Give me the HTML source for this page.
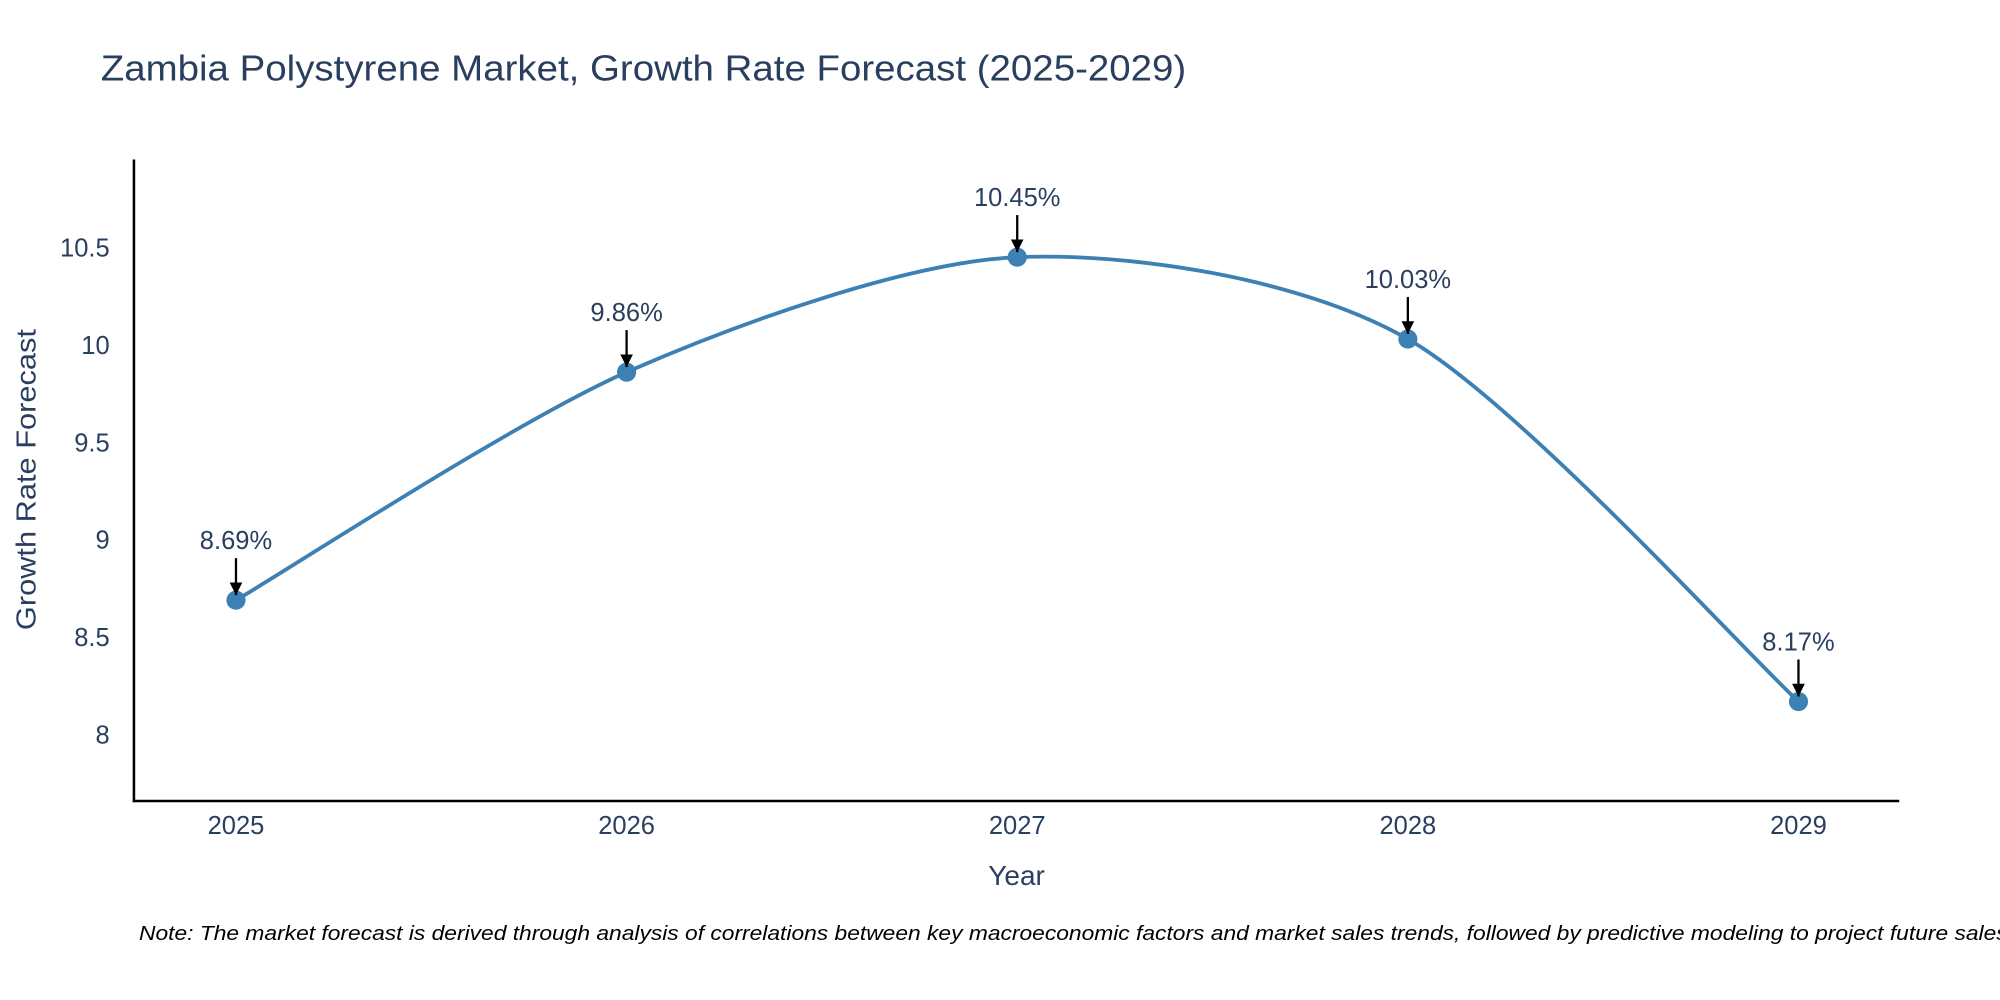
<!DOCTYPE html>
<html><head><meta charset="utf-8"><style>
html,body{margin:0;padding:0;background:#fff;}
svg{display:block;font-family:"Liberation Sans",sans-serif;}
</style></head><body>
<svg id="chart" width="2000" height="1000" viewBox="0 0 1568 784" xmlns="http://www.w3.org/2000/svg">
<defs><marker id="ah" viewBox="0 0 10 10" refX="10" refY="5" markerWidth="10" markerHeight="10" orient="auto" markerUnits="userSpaceOnUse"><path d="M0,0 L10,5 L0,10 z" fill="#000"/></marker></defs>
<rect width="1568" height="784" fill="#fff"/>
<text x="79" y="63" font-size="28" fill="#2a3f5f" textLength="851" lengthAdjust="spacingAndGlyphs">Zambia Polystyrene Market, Growth Rate Forecast (2025-2029)</text>
<g id="yticks"></g><g id="xticks"></g>
<line x1="105" y1="125" x2="105" y2="629" stroke="#000" stroke-width="2"/>
<line x1="104" y1="628" x2="1489" y2="628" stroke="#000" stroke-width="2"/>
<g id="series"></g>
<text transform="translate(28,376) rotate(-90)" text-anchor="middle" font-size="22" fill="#2a3f5f" textLength="236" lengthAdjust="spacingAndGlyphs">Growth Rate Forecast</text>
<text x="797" y="694" text-anchor="middle" font-size="22" fill="#2a3f5f">Year</text>
<text x="109" y="737" font-size="16" font-style="italic" fill="#000" textLength="1470" lengthAdjust="spacingAndGlyphs">Note: The market forecast is derived through analysis of correlations between key macroeconomic factors and market sales trends, followed by predictive modeling to project future sales.</text>
</svg>
<script>
const categories=["2025","2026","2027","2028","2029"];
const values=[8.69,9.86,10.45,10.03,8.17];
const labels=["8.69%","9.86%","10.45%","10.03%","8.17%"];
const yTicks=[8,8.5,9,9.5,10,10.5];
const yTickLabels=["8","8.5","9","9.5","10","10.5"];
const NS="http://www.w3.org/2000/svg";
const xs=i=>185+i*306.25;
const ys=v=>576-(v-8)*152.8;
function mk(t,a,p){const e=document.createElementNS(NS,t);for(const k in a)e.setAttribute(k,a[k]);p.appendChild(e);return e;}
const yt=document.getElementById('yticks');
yTicks.forEach((v,i)=>{const t=mk('text',{x:86,y:ys(v)+7,'text-anchor':'end','font-size':20,fill:'#2a3f5f'},yt);t.textContent=yTickLabels[i];

});
const xt=document.getElementById('xticks');
categories.forEach((c,i)=>{const t=mk('text',{x:xs(i),y:654,'text-anchor':'middle','font-size':20,fill:'#2a3f5f'},xt);t.textContent=c;

});
const s=document.getElementById('series');
const P=values.map((v,i)=>[xs(i),ys(v)]);
let d=`M${P[0][0]},${P[0][1]}`;const k=0.14;
for(let i=0;i<P.length-1;i++){const p0=P[Math.max(i-1,0)],p1=P[i],p2=P[i+1],p3=P[Math.min(i+2,P.length-1)];
d+=` C${p1[0]+(p2[0]-p0[0])*k},${p1[1]+(p2[1]-p0[1])*k} ${p2[0]-(p3[0]-p1[0])*k},${p2[1]-(p3[1]-p1[1])*k} ${p2[0]},${p2[1]}`;}
const line=mk('path',{d:d,fill:'none',stroke:'#3d80b3','stroke-width':3},s);


P.forEach((p,i)=>{const c=mk('circle',{cx:p[0],cy:p[1],r:7.5,fill:'#3d80b3'},s);


const a=mk('line',{x1:p[0],y1:p[1]-33,x2:p[0],y2:p[1]-4,stroke:'#000','stroke-width':1.8,'marker-end':'url(#ah)'},s);


const t=mk('text',{x:p[0],y:p[1]-40,'text-anchor':'middle','font-size':20,fill:'#2a3f5f'},s);t.textContent=labels[i];

});
</script>
</body></html>
